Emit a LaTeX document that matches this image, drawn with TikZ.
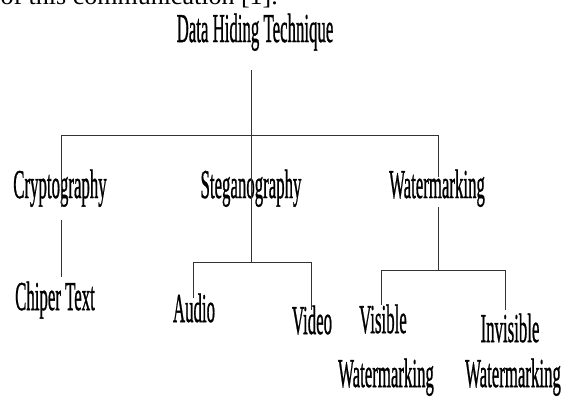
\documentclass[tikz,border=0pt]{standalone}
\usepackage{fontspec}
\setmainfont{Liberation Serif}
\newfontfamily\condfont[FakeBold=1.2]{Liberation Serif}
\newcommand{\cz}[1]{\scalebox{0.41}[1]{#1}}
\begin{document}
\begin{tikzpicture}[x=1pt,y=-1pt,
  lbl/.style={font=\condfont\fontsize{41}{44}\selectfont, inner sep=0pt, anchor=base},
  conn/.style={line width=0.9pt, draw=black!80}]
\useasboundingbox (0,0) rectangle (564,396);
\clip (0,0) rectangle (564,396);
% partial line of the surrounding text
\node[font=\fontsize{26}{30}\selectfont, inner sep=0pt, anchor=base east] (prev) at (278,5) {of this communication [1].};
% labels
\node[lbl] (root) at (255,42) {\cz{Data Hiding Technique}};
\node[lbl] (crypto) at (60,198) {\cz{Cryptography}};
\node[lbl] (stega) at (251,198) {\cz{Steganography}};
\node[lbl] (water) at (437,198) {\cz{Watermarking}};
\node[lbl] (chiper) at (55,310) {\cz{Chiper Text}};
\node[lbl] (audio) at (194,322) {\cz{Audio}};
\node[lbl] (video) at (312,334) {\cz{Video}};
\node[lbl] (visible) at (383,333) {\cz{Visible}};
\node[lbl] (visiblew) at (386,387) {\cz{Watermarking}};
\node[lbl] (invisible) at (510,342) {\cz{Invisible}};
\node[lbl] (invisiblew) at (513,387) {\cz{Watermarking}};
% junction coordinates
\coordinate (top) at (251.5,70);
\coordinate (bus) at (251.5,135);
\coordinate (busL) at (61,135);
\coordinate (busR) at (438,135);
\coordinate (c1) at (61,207);
\coordinate (c2) at (61,220);
\coordinate (c3) at (61,277);
\coordinate (sbus) at (251.5,262);
\coordinate (sbL) at (193.3,262);
\coordinate (sbR) at (311.7,262);
\coordinate (sA) at (193.3,298);
\coordinate (sV) at (311.7,310);
\coordinate (w1) at (438,177);
\coordinate (w2) at (438,207);
\coordinate (wbus) at (438,270);
\coordinate (wbL) at (381.7,270);
\coordinate (wbR) at (505,270);
\coordinate (wV) at (381.7,305);
\coordinate (wI) at (505,310);
% connectors
\draw[conn] (top) -- (bus);
\draw[conn] (busL) -- (busR);
\draw[conn] (busL) -- (c1);
\draw[conn] (c2) -- (c3);
\draw[conn] (bus) -- (sbus);
\draw[conn] (sA) -- (sbL) -- (sbR) -- (sV);
\draw[conn] (busR) -- (w1);
\draw[conn] (w2) -- (wbus);
\draw[conn] (wV) -- (wbL) -- (wbR) -- (wI);
\end{tikzpicture}
\end{document}
